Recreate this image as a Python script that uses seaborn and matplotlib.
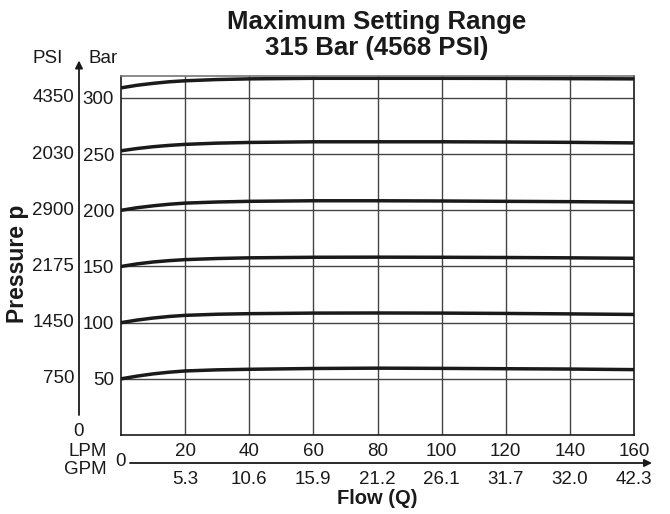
import numpy as np
import pandas as pd
import matplotlib
matplotlib.use("Agg")
import matplotlib.pyplot as plt
import matplotlib.transforms as mtransforms
import seaborn as sns

# ---- data ----
flow_lpm = [0, 5, 10, 15, 20, 30, 40, 60, 80, 100, 120, 140, 160]
curve_300 = [309, 311.3, 313.0, 314.4, 315.3, 316.4, 317, 317.5, 317.5, 317.5, 317.4, 317.2, 317]
curve_250 = [253, 255, 256.6, 257.8, 258.7, 259.8, 260.4, 261, 261, 261, 260.8, 260.5, 260]
curve_200 = [200, 202.3, 204.0, 205.4, 206.4, 207.4, 208, 208.5, 208.5, 208.3, 208, 207.7, 207.3]
curve_150 = [150, 152.3, 154.0, 155.2, 156.1, 157.1, 157.7, 158.2, 158.3, 158.2, 158, 157.7, 157.3]
curve_100 = [100, 102.3, 104.1, 105.5, 106.5, 107.5, 108, 108.5, 108.6, 108.5, 108.2, 107.8, 107.3]
curve_50 = [50, 52.4, 54.4, 55.9, 57, 58, 58.5, 59.2, 59.5, 59.3, 59, 58.7, 58.2]

bar_ticks = [50, 100, 150, 200, 250, 300]
psi_labels = ["750", "1450", "2175", "2900", "2030", "4350"]
lpm_ticks = [20, 40, 60, 80, 100, 120, 140, 160]
gpm_labels = ["5.3", "10.6", "15.9", "21.2", "26.1", "31.7", "32.0", "42.3"]

title = "Maximum Setting Range\n315 Bar (4568 PSI)"

series = {"300": curve_300, "250": curve_250, "200": curve_200,
          "150": curve_150, "100": curve_100, "50": curve_50}
df = pd.concat([pd.DataFrame({"flow": flow_lpm, "pressure": v, "setting": k})
                for k, v in series.items()], ignore_index=True)

sns.set_style("white")
plt.rcParams["font.family"] = ["Liberation Sans", "DejaVu Sans"]

FS = 13.5
INK = "#1a1a1a"

fig = plt.figure(figsize=(6.7, 5.14), dpi=100)
ax = fig.add_axes([121 / 670, 1 - 435 / 514, (634 - 121) / 670, (435 - 75.5) / 514])

sns.lineplot(data=df, x="flow", y="pressure", units="setting", estimator=None,
             color=INK, linewidth=2.5, ax=ax, legend=False)

ax.set_xlim(0, 160)
ax.set_ylim(0, 320)

# grid
for x in lpm_ticks[:-1]:
    ax.axvline(x, color="#444444", lw=1.0, zorder=0)
for y in bar_ticks:
    ax.axhline(y, color="#444444", lw=1.0, zorder=0)

for s in ["left", "bottom", "right"]:
    ax.spines[s].set_color(INK)
    ax.spines[s].set_linewidth(1.2)
ax.spines["top"].set_color("#777777")
ax.spines["top"].set_linewidth(1.2)

# y tick labels (Bar)
ax.set_yticks(bar_ticks)
ax.set_yticklabels([str(b) for b in bar_ticks])
ax.tick_params(axis="y", length=0, pad=5, labelsize=FS, labelcolor=INK)
# x tick labels (LPM)
ax.set_xticks(lpm_ticks)
ax.set_xticklabels([str(v) for v in lpm_ticks])
ax.tick_params(axis="x", length=0, pad=6, labelsize=FS, labelcolor=INK)
ax.set_xlabel("")
ax.set_ylabel("")

yblend = mtransforms.blended_transform_factory(ax.transAxes, ax.transData)
xblend = mtransforms.blended_transform_factory(ax.transData, ax.transAxes)

def off(tr, dx, dy):
    return mtransforms.offset_copy(tr, fig=fig, x=dx, y=dy, units="dots")

# PSI labels
for b, lab in zip(bar_ticks, psi_labels):
    ax.text(0, b, lab, transform=off(yblend, -47, 0), ha="right", va="center",
            fontsize=FS, color=INK)
ax.text(0, 0, "0", transform=off(yblend, -42, 4), ha="center", va="center",
        fontsize=FS, color=INK)

# vertical arrow
ax.annotate("", xy=(0, 1), xycoords=off(ax.transAxes, -42, 15),
            xytext=(0, 0), textcoords=off(ax.transAxes, -42, 20),
            arrowprops=dict(arrowstyle="-|>", color=INK, lw=1.3,
                            mutation_scale=11, shrinkA=0, shrinkB=0),
            annotation_clip=False)
ax.text(0, 1, "PSI", transform=off(ax.transAxes, -73, 17), ha="center", va="center",
        fontsize=FS, color=INK)
ax.text(0, 1, "Bar", transform=off(ax.transAxes, -18, 17), ha="center", va="center",
        fontsize=FS, color=INK)

# horizontal arrow
ax.annotate("", xy=(1, 0), xycoords=off(ax.transAxes, 18, -28),
            xytext=(0, 0), textcoords=off(ax.transAxes, 9, -28),
            arrowprops=dict(arrowstyle="-|>", color=INK, lw=1.3,
                            mutation_scale=11, shrinkA=0, shrinkB=0),
            annotation_clip=False)
ax.text(0, 0, "0", transform=off(ax.transAxes, -1, -27), ha="center", va="center",
        fontsize=FS, color=INK)
ax.text(0, 0, "LPM", transform=off(ax.transAxes, -33, -17), ha="center", va="center",
        fontsize=FS, color=INK)
ax.text(0, 0, "GPM", transform=off(ax.transAxes, -36, -34), ha="center", va="center",
        fontsize=FS, color=INK)

# GPM labels
for x, lab in zip(lpm_ticks, gpm_labels):
    ax.text(x, 0, lab, transform=off(xblend, 0, -44), ha="center", va="center",
            fontsize=FS, color=INK)

ax.text(0.5, 0, "Flow (Q)", transform=off(ax.transAxes, 0, -63), ha="center",
        va="center", fontsize=14.5, fontweight="bold", color=INK)
fig.text(18 / 670, 1 - 264 / 514, "Pressure p", rotation=90, ha="center", va="center",
         fontsize=16.5, fontweight="bold", color=INK)

fig.text(377 / 670, 1 - 35 / 514, title, ha="center", va="center",
         fontsize=18.5, fontweight="bold", color=INK, linespacing=1.1)

fig.savefig("out.png", dpi=100)
